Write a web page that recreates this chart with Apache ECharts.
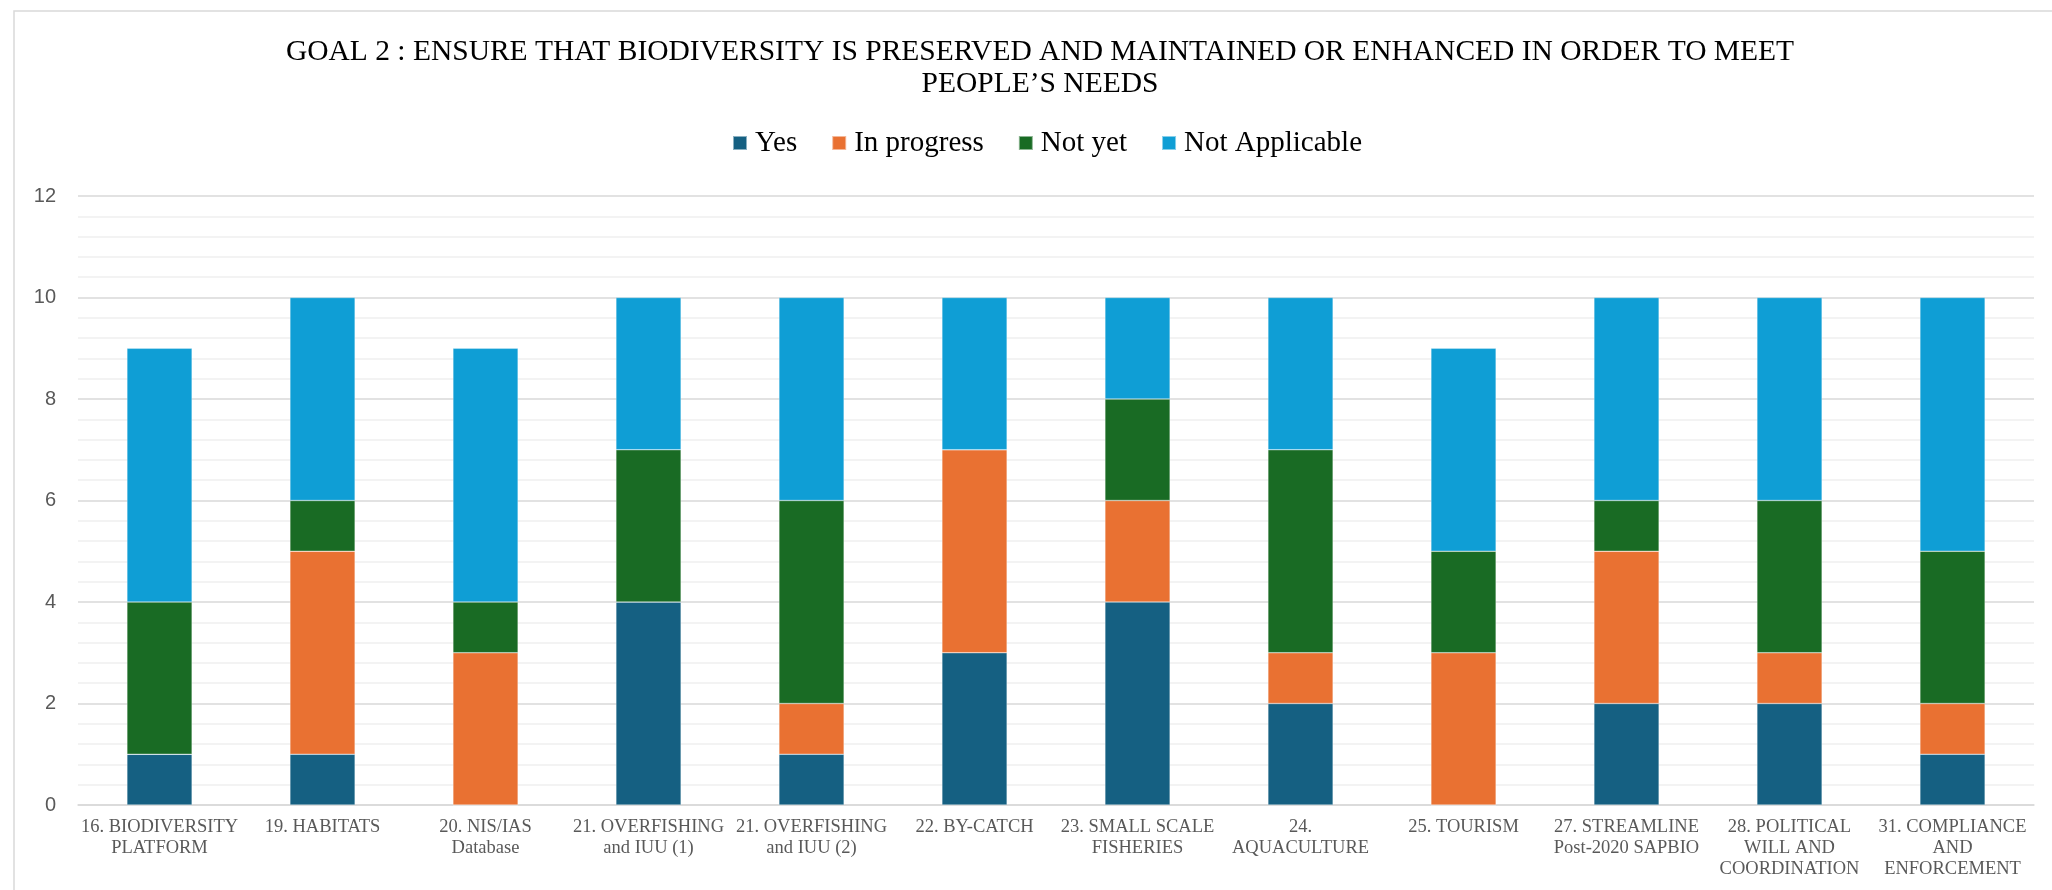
<!DOCTYPE html>
<html>
<head>
<meta charset="utf-8">
<title>Goal 2</title>
<script src="https://cdn.jsdelivr.net/npm/echarts@6/dist/echarts.min.js"></script>
<style>
    html, body { margin: 0; padding: 0; background: #fff; }
    #chart { width: 2052px; height: 890px; }
</style>
</head>
<body>
<div id="chart"></div>
<script>
var categories = [
    '16. BIODIVERSITY\nPLATFORM',
    '19. HABITATS',
    '20. NIS/IAS\nDatabase',
    '21. OVERFISHING\nand IUU (1)',
    '21. OVERFISHING\nand IUU (2)',
    '22. BY-CATCH',
    '23. SMALL SCALE\nFISHERIES',
    '24.\nAQUACULTURE',
    '25. TOURISM',
    '27. STREAMLINE\nPost-2020 SAPBIO',
    '28. POLITICAL\nWILL AND\nCOORDINATION',
    '31. COMPLIANCE\nAND\nENFORCEMENT'
];
var yes           = [1, 1, 0, 4, 1, 3, 4, 2, 0, 2, 2, 1];
var inProgress    = [0, 4, 3, 0, 1, 4, 2, 1, 3, 3, 1, 1];
var notYet        = [3, 1, 1, 3, 4, 0, 2, 4, 2, 1, 3, 3];
var notApplicable = [5, 4, 5, 3, 4, 3, 2, 3, 4, 4, 4, 5];

(function(){
    var serif = '"Liberation Serif", "Times New Roman", serif';
    var chart = echarts.init(document.getElementById('chart'));

    function bar(name, data, color) {
        return {
            name: name,
            type: 'bar',
            stack: 'total',
            barWidth: '40%',
            data: data,
            itemStyle: {
                color: color,
                borderColor: 'rgba(255,255,255,0.5)',
                borderWidth: 0.6
            }
        };
    }

    var option = {
        animation: false,
        backgroundColor: '#fff',
        title: {
            text: 'GOAL 2 : ENSURE THAT BIODIVERSITY IS PRESERVED AND MAINTAINED OR ENHANCED IN ORDER TO MEET\nPEOPLE\u2019S NEEDS',
            left: 1040,
            textAlign: 'center',
            top: 36,
            padding: 0,
            textStyle: {
                fontFamily: serif,
                fontSize: 29.5,
                fontWeight: 'normal',
                lineHeight: 32,
                color: '#000'
            }
        },
        legend: {
            left: 732,
            top: 128,
            padding: 0,
            itemWidth: 14,
            itemHeight: 14,
            itemGap: 34,
            icon: 'rect',
            data: ['Yes', 'In progress', 'Not yet', 'Not Applicable'],
            textStyle: {
                fontFamily: serif,
                fontSize: 29,
                lineHeight: 30,
                color: '#000',
                padding: [0, 0, 0, 3]
            }
        },
        graphic: [{
            type: 'rect',
            shape: {x: 14, y: 11, width: 2100, height: 1000},
            style: {fill: 'none', stroke: '#d9d9d9', lineWidth: 1.5},
            silent: true
        }],
        grid: {
            left: 78,
            right: 18,
            top: 196,
            bottom: 85
        },
        xAxis: {
            type: 'category',
            data: categories,
            axisTick: {show: false},
            axisLine: {lineStyle: {color: '#d9d9d9', width: 1.5}},
            axisLabel: {
                interval: 0,
                margin: 12,
                fontFamily: serif,
                fontSize: 18.5,
                lineHeight: 21,
                color: '#595959'
            }
        },
        yAxis: {
            type: 'value',
            min: 0,
            max: 12,
            interval: 2,
            axisLine: {show: false},
            axisTick: {show: false},
            axisLabel: {
                margin: 22,
                fontFamily: '"Liberation Sans", Arial, sans-serif',
                fontSize: 20,
                color: '#595959'
            },
            splitLine: {lineStyle: {color: '#d9d9d9', width: 1.5}},
            minorTick: {show: false, splitNumber: 5},
            minorSplitLine: {show: true, lineStyle: {color: '#f0f0f0', width: 1.5}}
        },
        series: [
            bar('Yes', yes, '#156082'),
            bar('In progress', inProgress, '#E97132'),
            bar('Not yet', notYet, '#196B24'),
            bar('Not Applicable', notApplicable, '#0F9ED5')
        ]
    };
    chart.setOption(option);
}());
</script>
</body>
</html>
